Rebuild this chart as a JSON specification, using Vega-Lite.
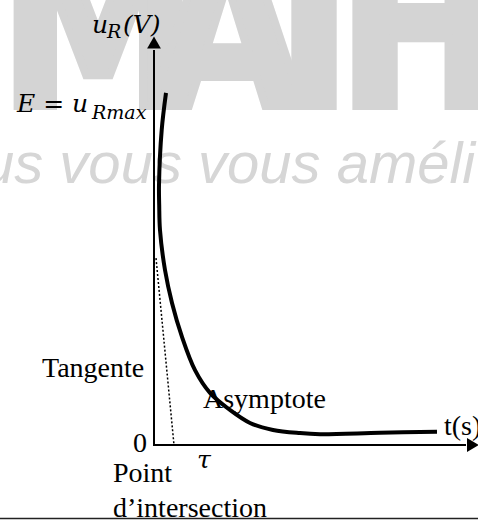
{
  "$schema": "https://vega.github.io/schema/vega-lite/v6.json",
  "autosize": {"type": "none"},
  "width": 478,
  "height": 520,
  "padding": 0,
  "background": "white",
  "config": {"view": {"stroke": null}},
  "datasets": {
    "watermark": [
      {"label": "M", "t": -2.8, "u": 9.686},
      {"label": "A", "t": 3.65, "u": 9.686},
      {"label": "T", "t": 8.0, "u": 9.686},
      {"label": "H", "t": 13.35, "u": 9.686}
    ],
    "slogan": [{"label": "us vous vous améli", "t": -8.6, "u": 7.486}],
    "curve": [
      {"i": 0, "t": 0.6, "u": 10.06},
      {"i": 1, "t": 0.385, "u": 9.0},
      {"i": 2, "t": 0.25, "u": 7.43},
      {"i": 3, "t": 0.26, "u": 6.86},
      {"i": 4, "t": 0.3, "u": 6.14},
      {"i": 5, "t": 0.55, "u": 5.0},
      {"i": 6, "t": 0.9, "u": 4.06},
      {"i": 7, "t": 1.4, "u": 3.09},
      {"i": 8, "t": 2.05, "u": 2.14},
      {"i": 9, "t": 2.8, "u": 1.49},
      {"i": 10, "t": 3.8, "u": 1.0},
      {"i": 11, "t": 4.8, "u": 0.63},
      {"i": 12, "t": 5.95, "u": 0.43},
      {"i": 13, "t": 7.3, "u": 0.34},
      {"i": 14, "t": 8.3, "u": 0.31},
      {"i": 15, "t": 11.3, "u": 0.35},
      {"i": 16, "t": 14.15, "u": 0.38}
    ],
    "tangent": [
      {"i": 0, "t": 0.1, "u": 5.34},
      {"i": 1, "t": 1.0, "u": 0.0}
    ],
    "axes": [
      {"t": 0, "u": -0.03, "t2": 0, "u2": 11.286},
      {"t": -0.05, "u": 0, "t2": 15.6, "u2": 0}
    ],
    "arrows": [
      {"dir": "up", "t": 0, "u": 11.5},
      {"dir": "right", "t": 15.95, "u": 0}
    ],
    "frame": [{"t": -7.7, "u": -2.1, "t2": 16.2}],
    "labels": [
      {"label": "Tangente", "t": -5.6, "u": 1.943},
      {"label": "Asymptote", "t": 2.45, "u": 1.057},
      {"label": "t(s)", "t": 14.5, "u": 0.286},
      {"label": "0", "t": -1.05, "u": -0.2},
      {"label": "Point", "t": -2.05, "u": -1.057},
      {"label": "d’intersection", "t": -2.05, "u": -2.057}
    ],
    "math": [
      {"label": "u", "t": -3.1, "u": 11.771},
      {"label": "(V)", "t": -1.55, "u": 11.771},
      {"label": "E = u", "t": -6.85, "u": 9.514},
      {"label": "τ", "t": 2.15, "u": -0.657}
    ],
    "subscripts": [
      {"label": "R", "t": -2.35, "u": 11.629},
      {"label": "Rmax", "t": -3.1, "u": 9.314}
    ]
  },
  "encoding": {
    "x": {"field": "t", "type": "quantitative", "axis": null,
          "scale": {"domain": [-7.7, 16.2], "nice": false, "zero": false}},
    "y": {"field": "u", "type": "quantitative", "axis": null,
          "scale": {"domain": [-2.143, 12.714], "nice": false, "zero": false}}
  },
  "layer": [
    {
      "data": {"name": "watermark"},
      "mark": {"type": "text", "align": "center", "baseline": "alphabetic",
               "font": "Liberation Sans Narrow, DejaVu Sans Condensed, sans-serif",
               "fontWeight": "bold", "fontSize": 220, "color": "#d4d4d4",
               "stroke": "#d4d4d4", "strokeWidth": 8, "strokeJoin": "miter"},
      "encoding": {"text": {"field": "label"}}
    },
    {
      "data": {"name": "slogan"},
      "mark": {"type": "text", "align": "left", "baseline": "alphabetic",
               "font": "Liberation Sans", "fontStyle": "italic",
               "fontSize": 58, "color": "#d6d6d6"},
      "encoding": {"text": {"field": "label"}}
    },
    {
      "data": {"name": "axes"},
      "mark": {"type": "rule", "color": "black", "strokeWidth": 2},
      "encoding": {"x2": {"field": "t2"}, "y2": {"field": "u2"}}
    },
    {
      "data": {"name": "arrows"},
      "mark": {"type": "point", "filled": true, "color": "black", "size": 190, "opacity": 1},
      "encoding": {
        "shape": {"field": "dir", "type": "nominal", "legend": null,
                  "scale": {"domain": ["up", "right"], "range": ["triangle-up", "triangle-right"]}}
      }
    },
    {
      "data": {"name": "tangent"},
      "mark": {"type": "line", "color": "black", "strokeWidth": 1.5, "strokeDash": [2, 2]},
      "encoding": {"order": {"field": "i"}}
    },
    {
      "data": {"name": "curve"},
      "mark": {"type": "line", "color": "black", "strokeWidth": 4, "interpolate": "catmull-rom"},
      "encoding": {"order": {"field": "i"}}
    },
    {
      "data": {"name": "frame"},
      "mark": {"type": "rule", "color": "#222222", "strokeWidth": 1.5},
      "encoding": {"x2": {"field": "t2"}}
    },
    {
      "data": {"name": "labels"},
      "mark": {"type": "text", "align": "left", "baseline": "alphabetic",
               "font": "Liberation Serif", "fontSize": 28, "color": "black"},
      "encoding": {"text": {"field": "label"}}
    },
    {
      "data": {"name": "math"},
      "mark": {"type": "text", "align": "left", "baseline": "alphabetic",
               "font": "DejaVu Serif", "fontStyle": "italic", "fontSize": 25, "color": "black"},
      "encoding": {"text": {"field": "label"}}
    },
    {
      "data": {"name": "subscripts"},
      "mark": {"type": "text", "align": "left", "baseline": "alphabetic",
               "font": "DejaVu Serif", "fontStyle": "italic", "fontSize": 19, "color": "black"},
      "encoding": {"text": {"field": "label"}}
    }
  ]
}
